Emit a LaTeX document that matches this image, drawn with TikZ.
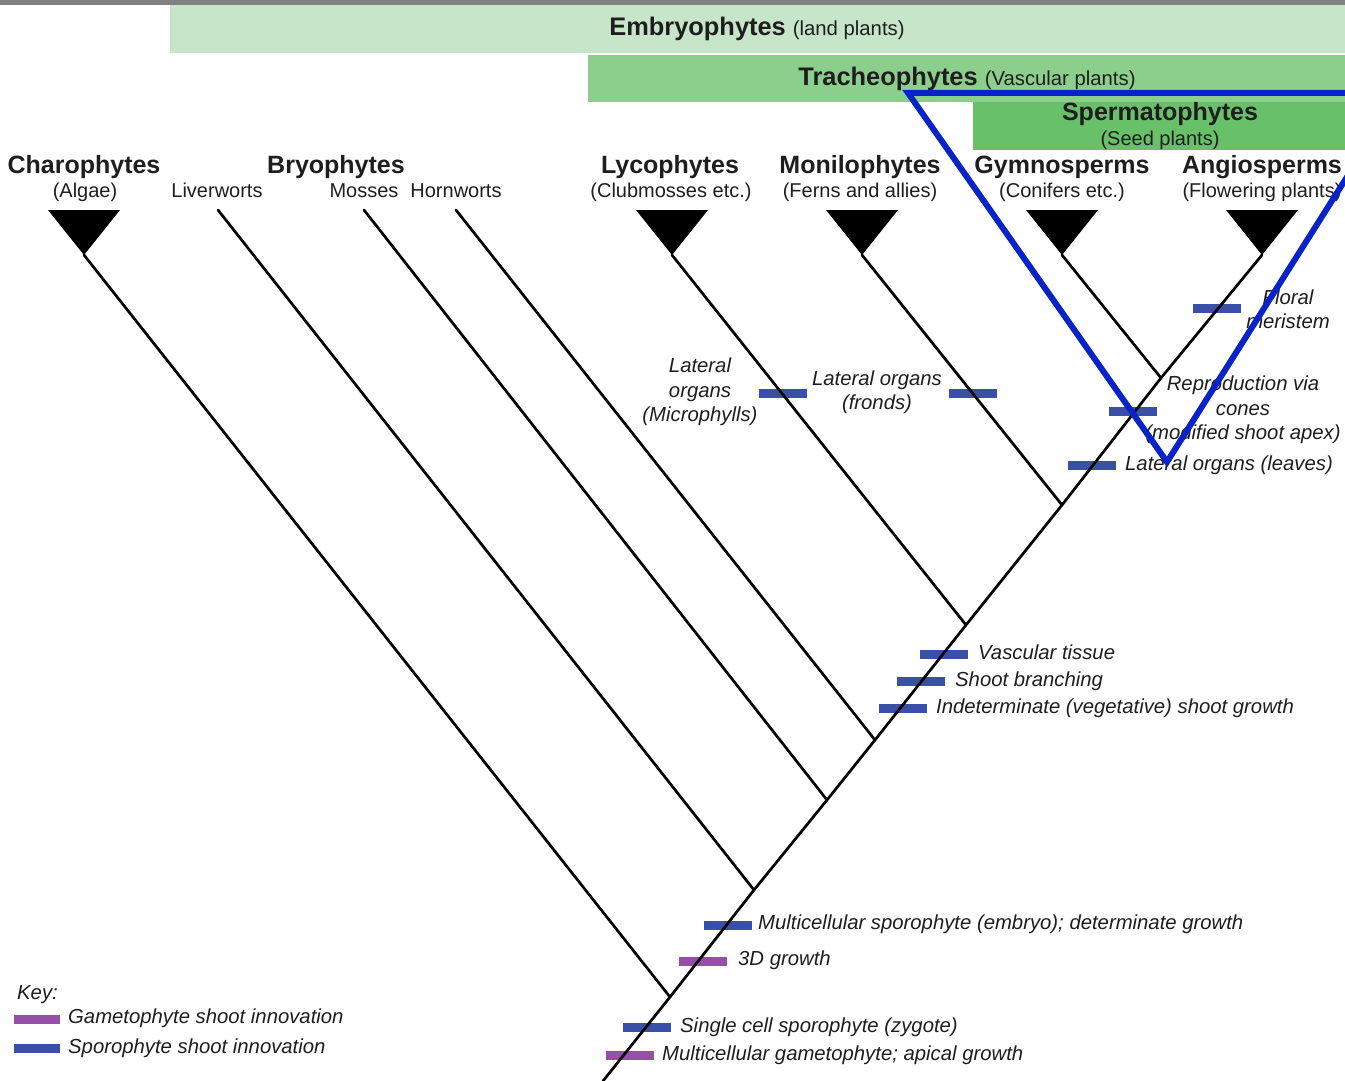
\documentclass[tikz,border=0pt]{standalone}
\usepackage{fontspec}
\setmainfont{Liberation Sans}
\definecolor{embc}{RGB}{199,229,200}
\definecolor{trac}{RGB}{140,207,140}
\definecolor{sperc}{RGB}{104,192,104}
\definecolor{sporc}{RGB}{58,80,168}
\definecolor{gamc}{RGB}{150,78,168}
\definecolor{hlc}{RGB}{8,36,200}
\definecolor{topc}{RGB}{128,128,128}
\definecolor{txtc}{RGB}{30,30,30}
\begin{document}
\begin{tikzpicture}[x=1pt,y=-1pt,
  branch/.style={line width=2.7pt, line cap=round, black},
  tipfill/.style={fill=black},
  sbar/.style={fill=sporc, minimum width=48pt, minimum height=9pt, inner sep=0pt, draw=none},
  gbar/.style={fill=gamc, minimum width=48pt, minimum height=9pt, inner sep=0pt, draw=none},
  hdr/.style={font=\fontsize{25}{27}\selectfont\bfseries, text=txtc, inner sep=0pt},
  sub/.style={font=\fontsize{20}{23}\selectfont, text=txtc, inner sep=0pt},
  ann/.style={font=\fontsize{20.3}{24.5}\selectfont\itshape, text=txtc, inner sep=0pt, text height=15pt, text depth=4pt},
  annm/.style={font=\fontsize{20.3}{24.5}\selectfont\itshape, text=txtc, inner sep=0pt, align=center},
  hl/.style={draw=hlc, line width=6pt, line join=miter}
]
\useasboundingbox (0,0) rectangle (1345,1081);
\clip (0,0) rectangle (1345,1081);
\fill[white] (0,0) rectangle (1345,1081);
\fill[topc] (0,0) rectangle (1345,5);
% bands
\fill[embc] (170,5) rectangle (1345,53);
\fill[trac] (588,55) rectangle (1345,102);
\fill[sperc] (973,102) rectangle (1345,150);
\node[anchor=base, inner sep=0pt, text=txtc] (tEmb) at (757,36) {\fontsize{25.4}{27}\selectfont\bfseries Embryophytes \fontsize{20.3}{22}\mdseries\selectfont(land plants)};
\node[anchor=base, inner sep=0pt, text=txtc] (tTra) at (967,85) {\fontsize{25.4}{27}\selectfont\bfseries Tracheophytes \fontsize{20.3}{22}\mdseries\selectfont(Vascular plants)};
\node[hdr, anchor=base] (tSper) at (1160,121) {Spermatophytes};
\node[sub, anchor=base] (tSeed) at (1160,146) {(Seed plants)};
% group headers
\node[hdr, anchor=base] (tCharo) at (84,173) {Charophytes};
\node[sub, anchor=base] (tAlgae) at (85,197) {(Algae)};
\node[hdr, anchor=base] (tBryo) at (336,173) {Bryophytes};
\node[sub, anchor=base] (tLiver) at (217,197) {Liverworts};
\node[sub, anchor=base] (tMoss) at (364,197) {Mosses};
\node[sub, anchor=base] (tHorn) at (456,197) {Hornworts};
\node[hdr, anchor=base] (tLyco) at (670,173) {Lycophytes};
\node[sub, anchor=base] (tClub) at (671,197) {(Clubmosses etc.)};
\node[hdr, anchor=base] (tMoni) at (860,173) {Monilophytes};
\node[sub, anchor=base] (tFern) at (860,197) {(Ferns and allies)};
\node[hdr, anchor=base] (tGymno) at (1062,173) {Gymnosperms};
\node[sub, anchor=base] (tConi) at (1062,197) {(Conifers etc.)};
\node[hdr, anchor=base] (tAngio) at (1262,173) {Angiosperms};
\node[sub, anchor=base] (tFlow) at (1262,197) {(Flowering plants)};
% tree coordinates
\coordinate (root) at (603,1081);
\coordinate (n1) at (670,997);
\coordinate (n2) at (754,890);
\coordinate (n3) at (827,800);
\coordinate (n4) at (875,740);
\coordinate (n5) at (966,625);
\coordinate (n6) at (1062,505);
\coordinate (n7) at (1161,378);
\coordinate (charo) at (84,255);
\coordinate (liver) at (218,210);
\coordinate (moss) at (364,210);
\coordinate (horn) at (456,210);
\coordinate (lyco) at (672,255);
\coordinate (moni) at (862,255);
\coordinate (gymno) at (1062,255);
\coordinate (angio) at (1262,255);
% clade triangles
\foreach \c in {charo,lyco,moni,gymno,angio}{
  \fill[tipfill] ([shift={(-36,-45)}]\c) -- ([shift={(36,-45)}]\c) -- (\c) -- cycle;
}
% character bars
\node[sbar] (bFloral) at (1217,308) {};
\node[sbar] (bMicro) at (783,393) {};
\node[sbar] (bFrond) at (973,393) {};
\node[sbar] (bCone) at (1133,411) {};
\node[sbar] (bLeaf) at (1092,465) {};
\node[sbar] (bVasc) at (944,654) {};
\node[sbar] (bBranch) at (921,681) {};
\node[sbar] (bIndet) at (903,708) {};
\node[sbar] (bEmbryo) at (728,925) {};
\node[gbar] (b3D) at (703,961) {};
\node[sbar] (bZyg) at (647,1027) {};
\node[gbar] (bGam) at (630,1055) {};
% branches
\draw[branch] (root) -- (n1) -- (n2) -- (n3) -- (n4) -- (n5) -- (n6) -- (n7) -- (angio);
\draw[branch] (charo) -- (n1);
\draw[branch] (liver) -- (n2);
\draw[branch] (moss) -- (n3);
\draw[branch] (horn) -- (n4);
\draw[branch] (lyco) -- (n5);
\draw[branch] (moni) -- (n6);
\draw[branch] (gymno) -- (n7);
% annotations
\node[annm] (aFloral) at (1288,309) {Floral\\meristem};
\node[annm] (aMicro) at (700,392) {Lateral\\organs\\(Microphylls)};
\node[annm] (aFrond) at (877,392) {Lateral organs\\(fronds)};
\node[annm] (aCone) at (1243,410) {Reproduction via\\cones\\(modified shoot apex)};
\node[ann, anchor=west] (aLeaf) at (1125,465) {Lateral organs (leaves)};
\node[ann, anchor=west] (aVasc) at (978,654) {Vascular tissue};
\node[ann, anchor=west] (aBranch) at (955,681) {Shoot branching};
\node[ann, anchor=west] (aIndet) at (936,708) {Indeterminate (vegetative) shoot growth};
\node[ann, anchor=west] (aEmbryo) at (758,924) {Multicellular sporophyte (embryo); determinate growth};
\node[ann, anchor=west] (a3D) at (738,960) {3D growth};
\node[ann, anchor=west] (aZyg) at (680,1027) {Single cell sporophyte (zygote)};
\node[ann, anchor=west] (aGam) at (662,1055) {Multicellular gametophyte; apical growth};
% key
\node[ann, anchor=west] (kKey) at (17,994) {Key:};
\node[gbar, minimum width=46pt] (kG) at (37,1019) {};
\node[ann, anchor=west] (kGt) at (68,1018) {Gametophyte shoot innovation};
\node[sbar, minimum width=46pt] (kS) at (37,1048) {};
\node[ann, anchor=west] (kSt) at (68,1048) {Sporophyte shoot innovation};
% highlight triangle
\coordinate (hlA) at (908,93);
\coordinate (hlB) at (1400,93);
\coordinate (hlC) at (1167,462);
\draw[hl] (hlB) -- (hlA) -- (hlC) -- (hlB);
\end{tikzpicture}
\end{document}
